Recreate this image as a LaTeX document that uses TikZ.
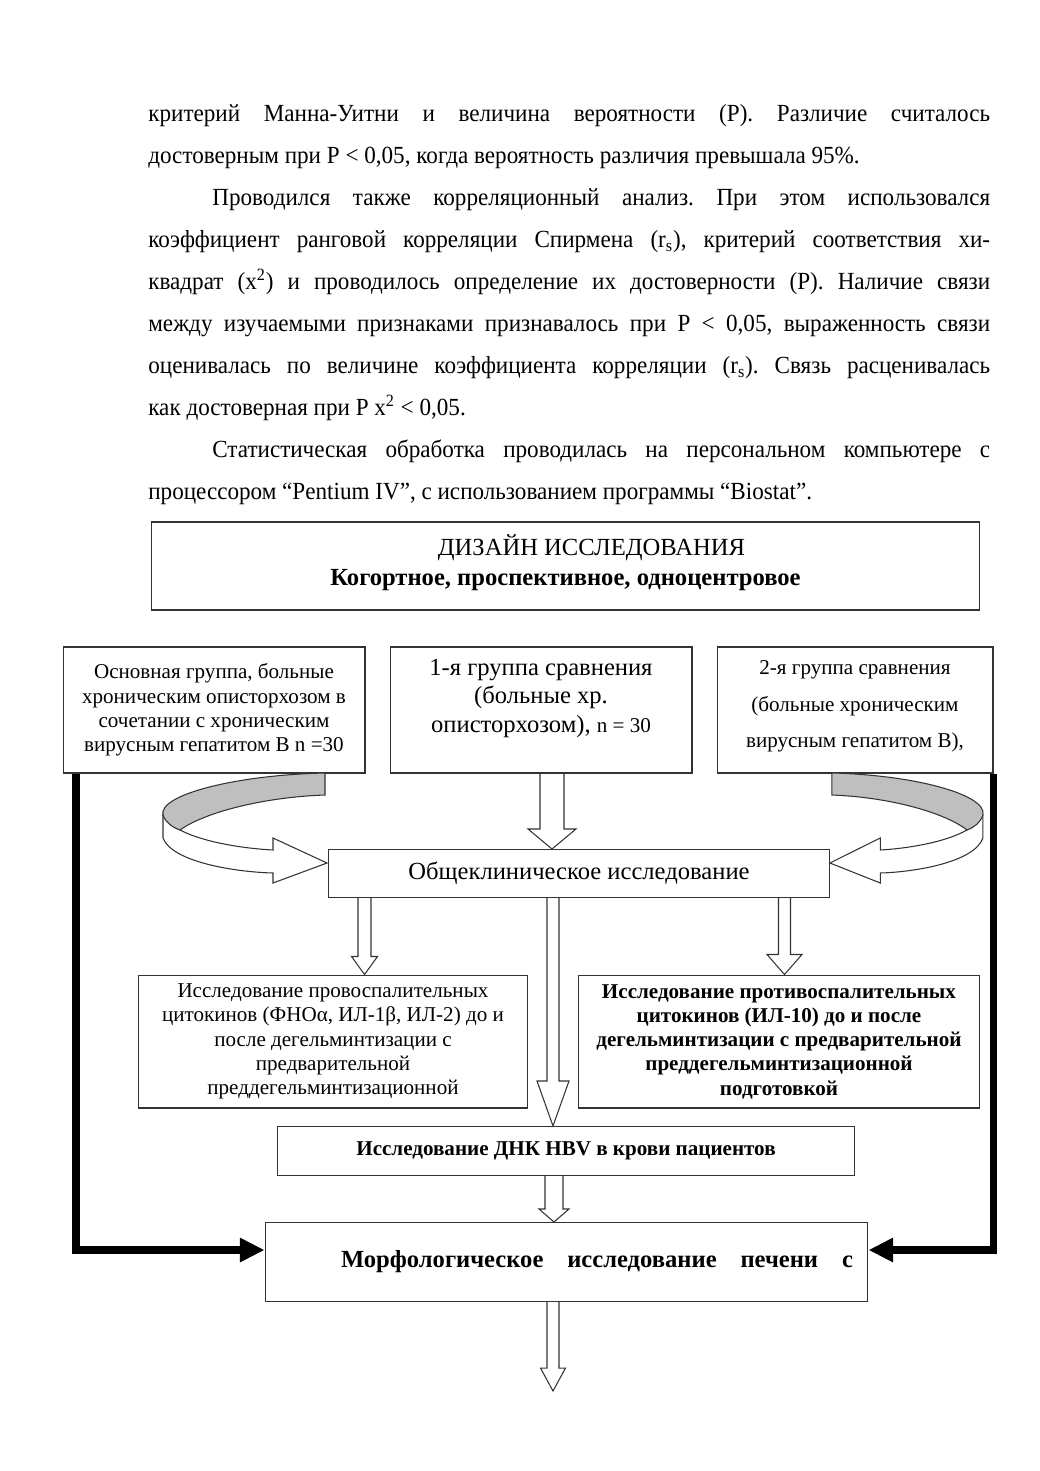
\documentclass[tikz,border=0pt]{standalone}
\usepackage{fontspec}
\setmainfont{Liberation Serif}
\newfontfamily\bodyfont[FakeStretch=0.94]{Liberation Serif}
\usetikzlibrary{arrows.meta,positioning,calc}
\frenchspacing

% hollow block arrow straight down from #1 to the level of #2
% #3 half shaft, #4 half head, #5 head length (picture units)
\newcommand{\hollowdown}[5]{%
  \draw[hollow] ($(#1)+(-#3,0)$) -- ($(#1|-#2)+(-#3,-#5)$) -- ($(#1|-#2)+(-#4,-#5)$) -- (#1|-#2)
    -- ($(#1|-#2)+(#4,-#5)$) -- ($(#1|-#2)+(#3,-#5)$) -- ($(#1)+(#3,0)$);}

\begin{document}
\begin{tikzpicture}[x=0.02cm, y=-0.02cm,
  box/.style={draw=black!80, line width=0.6pt, inner sep=2pt, align=center, font=\fontsize{12}{13.8}\selectfont},
  hollow/.style={draw=black!80, line width=0.6pt, line join=miter},
  heavy/.style={line width=4.2pt, -{Triangle[length=14pt,width=13pt]}},
  para/.style={anchor=north west, inner sep=0pt, text width=16.84cm, align=justify, font=\bodyfont\fontsize{14}{23.9}\selectfont}]
\useasboundingbox (0,0) rectangle (1039,1471);

% text above the scheme
\node[para] (body) at (148,104) {\setlength{\parindent}{0pt}критерий Манна-Уитни и величина вероятности (Р). Различие считалось\linebreak
достоверным при Р < 0,05, когда вероятность различия превышала 95\%.\par
\hspace*{1.28cm}Проводился также корреляционный анализ. При этом использовался\linebreak
коэффициент ранговой корреляции Спирмена (r\textsubscript{s}), критерий соответствия хи-\linebreak
квадрат (x\textsuperscript{2}) и проводилось определение их достоверности (Р). Наличие связи\linebreak
между изучаемыми признаками признавалось при Р < 0,05, выраженность связи\linebreak
оценивалась по величине коэффициента корреляции (r\textsubscript{s}). Связь расценивалась\linebreak
как достоверная при Р x\textsuperscript{2} < 0,05.\par
\hspace*{1.28cm}Статистическая обработка проводилась на персональном компьютере с\linebreak
процессором “Pentium IV”, с использованием программы “Biostat”.};

% boxes
\node[box, minimum width=16.58cm, minimum height=1.76cm, font=\fontsize{14}{17}\selectfont] (design) at (565.5,566)
  {\hspace*{1.04cm}ДИЗАЙН ИССЛЕДОВАНИЯ\\\textbf{Когортное, проспективное, одноцентровое}\\[-10pt]\mbox{}};
\node[box, minimum width=6.04cm, minimum height=2.52cm] (grpA) at (214,710)
  {Основная группа, больные\\хроническим описторхозом в\\сочетании с хроническим\\вирусным гепатитом В n =30};
\node[box, minimum width=6.04cm, minimum height=2.52cm, font=\fontsize{14}{16.1}\selectfont] (grpB) at (541,710)
  {1-я группа сравнения\\(больные хр.\\описторхозом), {\fontsize{12}{14}\selectfont n = 30}\\\mbox{}};
\node[box, minimum width=5.52cm, minimum height=2.52cm, font=\fontsize{12}{20.8}\selectfont] (grpC) at (855,710)
  {2-я группа сравнения\\(больные хроническим\\вирусным гепатитом В),\\[-14pt]\mbox{}};
\node[box, minimum width=10.04cm, minimum height=0.96cm, font=\fontsize{14}{17}\selectfont] (obs) at (579,873.5)
  {Общеклиническое исследование};
\node[box, minimum width=7.8cm, minimum height=2.66cm] (prov) at (333,1041.5)
  {Исследование провоспалительных\\цитокинов (ФНОα, ИЛ-1β, ИЛ-2) до и\\после дегельминтизации с\\предварительной\\преддегельминтизационной};
\node[box, minimum width=8.04cm, minimum height=2.66cm, font=\fontsize{12}{13.8}\selectfont\bfseries] (protiv) at (779,1041.5)
  {Исследование противоспалительных\\цитокинов (ИЛ-10) до и после\\дегельминтизации с предварительной\\преддегельминтизационной\\подготовкой};
\node[box, minimum width=11.56cm, minimum height=0.98cm, font=\fontsize{12}{13.8}\selectfont\bfseries] (dnk) at (566,1151)
  {Исследование ДНК HBV в крови пациентов};
\node[box, minimum width=12.06cm, minimum height=1.58cm, inner xsep=0pt, font=\fontsize{14}{17}\selectfont\bfseries] (morph) at (566.5,1262)
  {\hspace*{1.52cm}\makebox[10.24cm][s]{Морфологическое исследование печени с}\hspace*{0.3cm}};

% curved ribbon arrows into the general examination
\begin{scope}
  \draw[hollow, fill=white] (163,815) -- (163,838) .. controls (172,862) and (235,872) .. (273,873) -- (273,883)
    -- (327,863) -- (273,838) -- (273,850) .. controls (235,848) and (175,838) .. (163,815) -- cycle;
  \draw[hollow, fill=black!25] (325,773) .. controls (235,775) and (158,795) .. (163,815)
    .. controls (166,823) and (172,827) .. (180,830) .. controls (205,812) and (265,797) .. (325,795) -- cycle;
\end{scope}
\begin{scope}[shift={(1135,0)}, xscale=-0.933]
  \draw[hollow, fill=white] (163,815) -- (163,838) .. controls (172,862) and (235,872) .. (273,873) -- (273,883)
    -- (327,863) -- (273,838) -- (273,850) .. controls (235,848) and (175,838) .. (163,815) -- cycle;
  \draw[hollow, fill=black!25] (325,773) .. controls (235,775) and (158,795) .. (163,815)
    .. controls (166,823) and (172,827) .. (180,830) .. controls (205,812) and (265,797) .. (325,795) -- cycle;
\end{scope}

% block arrows
\coordinate (aB) at ($(grpB.south)+(11,0)$);
\coordinate (aL) at ($(obs.south west)+(37,0)$);
\coordinate (aM) at ($(obs.south)+(-26,0)$);
\coordinate (aR) at ($(obs.south east)+(-46,0)$);
\coordinate (aD) at ($(dnk.south)+(-12,0)$);
\coordinate (aE) at ($(morph.south)+(-13.5,0)$);
\coordinate (endE) at ($(morph.south)+(-13.5,89)$);
\hollowdown{aB}{obs.north}{12}{24}{20}
\hollowdown{aL}{prov.north}{6.5}{13}{18}
\hollowdown{aM}{dnk.north}{6}{16}{45}
\hollowdown{aR}{protiv.north}{6}{17.5}{20}
\hollowdown{aD}{morph.north}{9}{15}{13}
\hollowdown{aE}{endE}{6}{12.5}{23}

% heavy side arrows
\coordinate (la) at ($(grpA.south west)+(13.5,0)$);
\coordinate (lt) at ($(morph.west)+(0,-12)$);
\coordinate (rt) at ($(morph.east)+(0,-12)$);
\draw[heavy] (la) |- (lt);
\draw[heavy] (grpC.south east) |- (rt);
\end{tikzpicture}
\end{document}
